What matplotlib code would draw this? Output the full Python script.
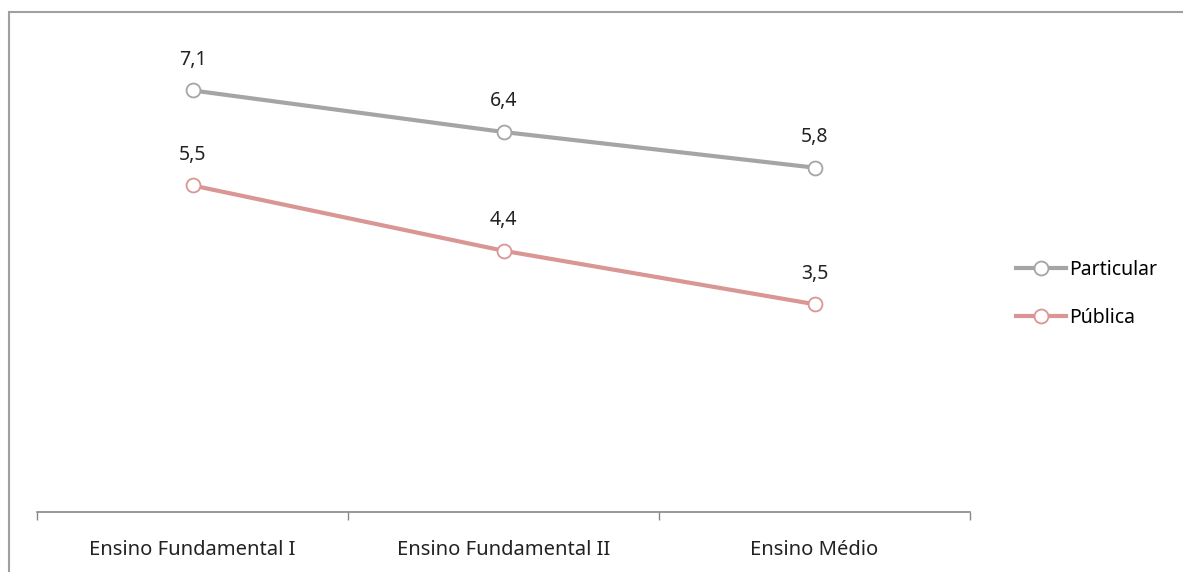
import matplotlib.pyplot as plt
from matplotlib.patches import Rectangle

categories = ["Ensino Fundamental I", "Ensino Fundamental II", "Ensino Médio"]
particular = [7.1, 6.4, 5.8]
publica = [5.5, 4.4, 3.5]

plt.rcParams['font.family'] = ['Noto Sans', 'DejaVu Sans']

W, H = 1183, 572
fig = plt.figure(figsize=(W / 100, H / 100), dpi=100)
ax = fig.add_axes([37 / W, (H - 512) / H, (970 - 37) / W, (512 - 37) / H])

# outer chart border (cropped at right and bottom)
fig.patches.append(Rectangle((9 / W, -0.1), 1.2, (H - 12) / H + 0.1, transform=fig.transFigure,
                             fill=False, edgecolor='#a0a0a0', linewidth=1.5))

x = list(range(len(categories)))
series = [("Particular", particular, '#a5a5a5'), ("Pública", publica, '#d99694')]
for name, vals, col in series:
    ax.plot(x, vals, color=col, linewidth=3, marker='o', markersize=10,
            markerfacecolor='white', markeredgecolor=col, markeredgewidth=1.3, label=name)
    for xi, v in zip(x, vals):
        ax.annotate(f"{v:.1f}".replace('.', ','), (xi, v), xytext=(0, 22),
                    textcoords='offset points', ha='center', va='center',
                    fontsize=14, color='#222222')

ax.set_xlim(-0.5, 2.5)
ax.set_ylim(0, 8)
ax.set_yticks([])
ax.set_xticks(x)
ax.set_xticklabels(categories, fontsize=14.5, color='#222222')
ax.set_xticks([-0.5, 0.5, 1.5, 2.5], minor=True)
ax.tick_params(axis='x', which='major', length=0, pad=20)
ax.tick_params(axis='x', which='minor', length=6, width=1, color='#888888', direction='out')
for s in ['top', 'left', 'right']:
    ax.spines[s].set_visible(False)
ax.spines['bottom'].set_color('#888888')
ax.spines['bottom'].set_linewidth(1.2)

fig.legend(loc='center left', bbox_to_anchor=(998 / W, 1 - 294 / H), frameon=False,
           fontsize=14, handlelength=2.6, handletextpad=0.15, labelspacing=1.45)

fig.savefig('out.png', dpi=100)
